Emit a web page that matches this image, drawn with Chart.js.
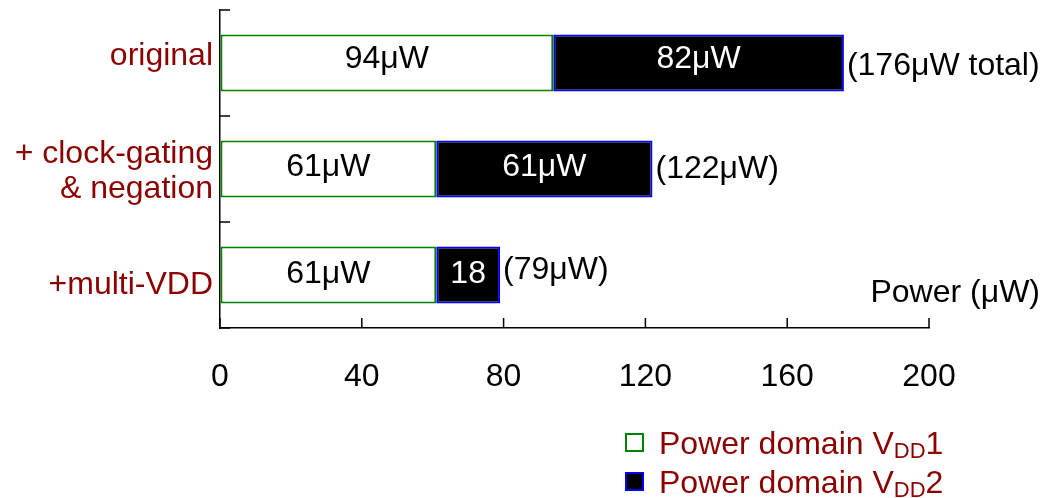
<!DOCTYPE html>
<html>
<head>
<meta charset="utf-8">
<script src="https://cdn.jsdelivr.net/npm/chart.js@4"></script>
<style>
  body { margin: 0; background: #fff; }
  canvas { display: block; }
</style>
</head>
<body>
<canvas id="power" width="1059" height="498"></canvas>
<script>
const categories = ['original', ['+ clock-gating', '& negation'], '+multi-VDD'];
const vdd1 = [94, 61, 61];
const vdd2 = [82, 61, 18];
const vdd1Labels = ['94μW', '61μW', '61μW'];
const vdd2Labels = ['82μW', '61μW', '18'];
const totalLabels = ['(176μW total)', '(122μW)', '(79μW)'];
const xTicks = [0, 40, 80, 120, 160, 200];

// vertical nudges of the texts against the bar centre (style only)
const catShift = [-7, 2.5, 10];
const innerShift = [-4, -1.5, -1];
const totalShift = [3.5, 0.5, -5];

const darkRed = '#8b0000';
const FONT = '"Liberation Sans", Arial, sans-serif';

// inward ticks, category labels, bar labels, axis title and the legend
const extras = {
  id: 'extras',
  afterDatasetsDraw(chart) {
    const c = chart.ctx;
    const x = chart.scales.x, y = chart.scales.y;
    const area = chart.chartArea;
    c.save();
    c.strokeStyle = '#000';
    c.lineWidth = 1.5;
    xTicks.forEach(v => {
      const px = x.getPixelForValue(v);
      c.beginPath(); c.moveTo(px, area.bottom); c.lineTo(px, area.bottom - 10); c.stroke();
    });
    for (let i = 0; i <= categories.length; i++) {
      const py = y.getPixelForValue(i - 0.5);
      c.beginPath(); c.moveTo(area.left, py); c.lineTo(area.left + 10, py); c.stroke();
    }

    c.font = '32px ' + FONT;
    c.textBaseline = 'middle';

    // category labels
    c.fillStyle = darkRed;
    c.textAlign = 'right';
    categories.forEach((lab, i) => {
      const lines = Array.isArray(lab) ? lab : [lab];
      const cy = y.getPixelForValue(i) + catShift[i];
      const lh = 35.5;
      lines.forEach((t, k) => {
        c.fillText(t, area.left - 7, cy + (k - (lines.length - 1) / 2) * lh);
      });
    });

    const m1 = chart.getDatasetMeta(0), m2 = chart.getDatasetMeta(1);
    m1.data.forEach((bar, i) => {
      c.fillStyle = '#000';
      c.textAlign = 'center';
      c.fillText(vdd1Labels[i], (bar.base + bar.x) / 2, bar.y + innerShift[i]);
    });
    m2.data.forEach((bar, i) => {
      c.fillStyle = '#fff';
      c.textAlign = 'center';
      c.fillText(vdd2Labels[i], (bar.base + bar.x) / 2, bar.y + innerShift[i]);
      c.fillStyle = '#000';
      c.textAlign = 'left';
      c.fillText(totalLabels[i], bar.x + 3, bar.y + totalShift[i]);
    });

    c.textAlign = 'right';
    c.fillText('Power (μW)', 1040, 293);

    // legend
    const items = [
      { fill: '#fff', stroke: '#008000', tail: '1' },
      { fill: '#000', stroke: '#0000ff', tail: '2' }
    ];
    items.forEach((it, i) => {
      const cy = 442 + i * 39;
      c.fillStyle = it.fill;
      c.strokeStyle = it.stroke;
      c.lineWidth = 2;
      c.fillRect(626, cy - 8, 17, 17);
      c.strokeRect(626, cy - 8, 17, 17);
      c.fillStyle = darkRed;
      c.textAlign = 'left';
      c.textBaseline = 'alphabetic';
      c.font = '32px ' + FONT;
      let tx = 659;
      const base = cy + 12;
      c.fillText('Power domain V', tx, base);
      tx += c.measureText('Power domain V').width;
      c.font = '22px ' + FONT;
      c.fillText('DD', tx, base + 4);
      tx += c.measureText('DD').width;
      c.font = '32px ' + FONT;
      c.fillText(it.tail, tx, base);
    });
    c.restore();
  }
};

new Chart(document.getElementById('power'), {
  type: 'bar',
  data: {
    labels: categories,
    datasets: [
      {
        label: 'Power domain VDD1',
        data: vdd1,
        backgroundColor: '#fff',
        borderColor: '#008000',
        borderWidth: 2,
        borderSkipped: false
      },
      {
        label: 'Power domain VDD2',
        data: vdd2,
        backgroundColor: '#000',
        borderColor: '#0000ff',
        borderWidth: 2,
        borderSkipped: false
      }
    ]
  },
  options: {
    indexAxis: 'y',
    responsive: false,
    animation: false,
    events: [],
    layout: { padding: { top: 10, right: 130, left: 0, bottom: 0 } },
    datasets: { bar: { categoryPercentage: 1, barPercentage: 0.54 } },
    plugins: { legend: { display: false }, tooltip: { enabled: false } },
    scales: {
      x: {
        stacked: true,
        min: 0,
        max: 200,
        afterFit(s) { s.height = 170; },
        afterBuildTicks(s) { s.ticks = xTicks.map(v => ({ value: v })); },
        grid: { drawOnChartArea: false, drawTicks: false },
        border: { color: '#000', width: 1.5 },
        ticks: { color: '#000', font: { family: FONT, size: 32 }, padding: 30, maxRotation: 0 }
      },
      y: {
        stacked: true,
        afterFit(s) { s.width = 220; },
        grid: { drawOnChartArea: false, drawTicks: false },
        border: { color: '#000', width: 1.5 },
        ticks: { display: false }
      }
    }
  },
  plugins: [extras]
});
</script>
</body>
</html>
